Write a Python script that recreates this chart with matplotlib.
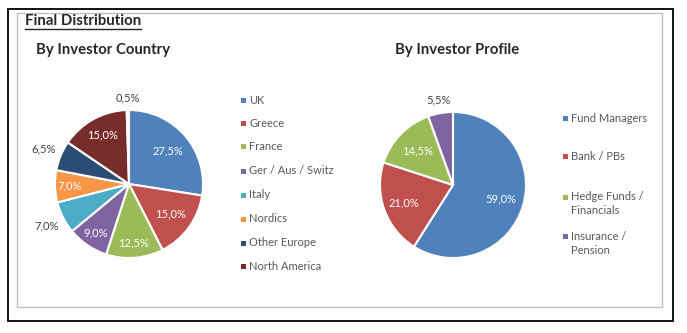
import matplotlib
matplotlib.use("Agg")
import matplotlib.pyplot as plt
from matplotlib.patches import Rectangle
from matplotlib.lines import Line2D
import numpy as np

# ---- data -------------------------------------------------------------
country_labels = ["UK", "Greece", "France", "Ger / Aus / Switz", "Italy",
                  "Nordics", "Other Europe", "North America", "Other"]
country_values = [27.5, 15.0, 12.5, 9.0, 7.0, 7.0, 6.5, 15.0, 0.5]

profile_labels = ["Fund Managers", "Bank / PBs", "Hedge Funds /\nFinancials",
                  "Insurance /\nPension"]
profile_values = [59.0, 21.0, 14.5, 5.5]

# ---- style ------------------------------------------------------------
country_colors = ["#4F81BD", "#C0504D", "#9BBB59", "#8064A2", "#4BACC6",
                  "#F79646", "#2C4D75", "#772C2A", "#FFFFFF"]
profile_colors = ["#4F81BD", "#C0504D", "#9BBB59", "#8064A2"]
# radial position of each value label (fraction of the radius)
country_label_r = [0.69, 0.69, 0.80, 0.80, 1.25, 0.80, 1.25, 0.75, 1.16]
country_label_out = [False, False, False, False, True, False, True, False, True]
profile_label_r = [0.68, 0.72, 0.67, 1.18]
profile_label_out = [False, False, False, True]

FONT = "Lato"
W, H = 687, 333
fig = plt.figure(figsize=(W / 100, H / 100), dpi=100)
fig.patch.set_facecolor("white")


def fx(x):
    return x / W


def fy(y):
    return 1 - y / H


# frames
fig.patches.append(Rectangle((fx(8), fy(321)), fx(673) - fx(8), fy(9) - fy(321),
                             transform=fig.transFigure, fill=False,
                             edgecolor="black", linewidth=1.3))
fig.patches.append(Rectangle((fx(17), fy(307)), fx(662) - fx(17), fy(13) - fy(307),
                             transform=fig.transFigure, fill=False,
                             edgecolor="#BFBFBF", linewidth=1.0))

# titles
head = fig.text(fx(25), fy(21), "Final Distribution", family=FONT, weight="bold",
                fontsize=10.8, color="#262626", ha="left", va="center")
fig.canvas.draw()
bb = head.get_window_extent().transformed(fig.transFigure.inverted())
fig.add_artist(Line2D([bb.x0, bb.x1], [fy(29), fy(29)],
                      transform=fig.transFigure, color="#262626", lw=1))
fig.text(fx(36), fy(50), "By Investor Country", family=FONT, weight="bold",
         fontsize=10.7, color="#262626", ha="left", va="center")
fig.text(fx(395), fy(50), "By Investor Profile", family=FONT, weight="bold",
         fontsize=10.7, color="#262626", ha="left", va="center")


def draw_pie(cx, cy, r, values, colors, label_r, label_out):
    ax = fig.add_axes([fx(cx - r), fy(cy + r), 2 * r / W, 2 * r / H])
    ax.pie(values, colors=colors, startangle=90, counterclock=False,
           radius=1.0, wedgeprops=dict(edgecolor="white", linewidth=1.5))
    ax.set_xlim(-1, 1)
    ax.set_ylim(-1, 1)
    ax.set_aspect("auto")
    ax.axis("off")
    total = sum(values)
    cum = 0.0
    for v, lr, out in zip(values, label_r, label_out):
        mid = (cum + v / 2) / total
        ang = np.deg2rad(90 - 360 * mid)
        cum += v
        txt = f"{v:.1f}%".replace(".", ",")
        ax.text(lr * np.cos(ang), lr * np.sin(ang), txt, family=FONT,
                fontsize=8, ha="center", va="center",
                color="#404040" if out else "white", clip_on=False)
    return ax


draw_pie(129, 184, 74, country_values, country_colors,
         country_label_r, country_label_out)
draw_pie(453, 185, 73, profile_values, profile_colors,
         profile_label_r, profile_label_out)


def legend(x, ys, labels, colors):
    for y, lab, col in zip(ys, labels, colors):
        fig.patches.append(Rectangle((fx(x - 2.5), fy(y + 2.5)), 5 / W, 5 / H,
                                     transform=fig.transFigure,
                                     facecolor=col, edgecolor="none"))
        for i, line in enumerate(lab.split("\n")):
            fig.text(fx(x + 6), fy(y + i * 14), line, family=FONT, fontsize=8,
                     color="#595959", ha="left", va="center")


legend(243, [100, 123.5, 147, 171, 195, 219, 243, 266],
       country_labels[:8], country_colors[:8])
legend(565, [118, 157, 197, 236], profile_labels, profile_colors)

fig.savefig("out.png", dpi=100)
